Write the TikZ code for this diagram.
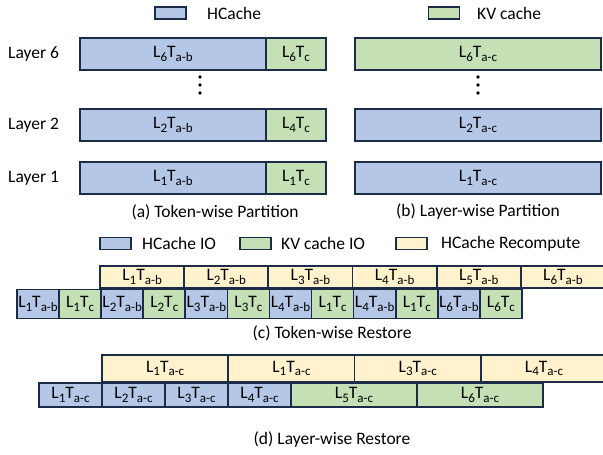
\documentclass[tikz,border=0pt]{standalone}
\usepackage{fontspec}
\setmainfont{Carlito}
\definecolor{edge}{HTML}{1C2C48}
\definecolor{hblue}{HTML}{B4C7E7}
\definecolor{kgreen}{HTML}{C5E0B4}
\definecolor{ryellow}{HTML}{FFF2CC}
% lowered, reduced-size index
\newcommand\idx[1]{\raisebox{-3.2pt}{\fontsize{13}{14}\selectfont #1}}
% layer/token block label, e.g. L_6 T_{a-b}
\newcommand\LT[2]{L\idx{#1}T\idx{#2}}
\begin{document}
\begin{tikzpicture}[x=1pt,y=-1pt,
  font=\fontsize{17.5}{20}\selectfont,
  cell/.style={draw=edge,line width=1.7pt,inner sep=0pt,outer sep=0pt},
  fillH/.style={cell,fill=hblue},
  fillK/.style={cell,fill=kgreen},
  fillR/.style={cell,fill=ryellow},
  legbox/.style={minimum width=31pt,minimum height=12pt},
  txt/.style={inner sep=0pt,anchor=west},
  dot/.style={fill=black,circle,inner sep=0pt,minimum size=3.6pt}]
\useasboundingbox (0,0) rectangle (603,455);

% ---------- (a) / (b) legend ----------
\node[fillH,legbox] (lgH) at (170.5,13) {};
\node[txt] (lgHt) at (207,13) {HCache};
\node[fillK,legbox] (lgK) at (444,13) {};
\node[txt] (lgKt) at (477,13) {KV cache};

% ---------- layer labels ----------
\node[txt] (lay6) at (8,54) {Layer 6};
\node[txt] (lay2) at (8,125) {Layer 2};
\node[txt] (lay1) at (8,178) {Layer 1};

% ---------- (a) token-wise partition ----------
\foreach \n/\y/\c in {6/54/6, 2/125/4, 1/178/1} {
  \node[fillH,minimum width=186pt,minimum height=32pt] (a\n h) at (173,\y) {\LT{\n}{a-b}};
  \node[fillK,minimum width=60pt,minimum height=32pt] (a\n k) at (296,\y) {\LT{\c}{c}};
}
\foreach \y [count=\k] in {77,85,93} \node[dot] (adot\k) at (200,\y) {};
\node (capa) at (215,212) {(a) Token-wise Partition};

% ---------- (b) layer-wise partition ----------
\node[fillK,minimum width=246pt,minimum height=32pt] (b6) at (478,54) {\LT{6}{a-c}};
\node[fillH,minimum width=246pt,minimum height=32pt] (b2) at (478,125) {\LT{2}{a-c}};
\node[fillH,minimum width=246pt,minimum height=32pt] (b1) at (478,178) {\LT{1}{a-c}};
\foreach \y [count=\k] in {77,85,93} \node[dot] (bdot\k) at (478,\y) {};
\node (capb) at (478,212) {(b) Layer-wise Partition};

% ---------- (c) / (d) legend ----------
\node[fillH,legbox] (lgHio) at (115.5,243.5) {};
\node[txt] (lgHiot) at (142,243.5) {HCache IO};
\node[fillK,legbox] (lgKio) at (255.5,243.5) {};
\node[txt] (lgKiot) at (281,243.5) {KV cache IO};
\node[fillR,legbox] (lgR) at (411.5,243.5) {};
\node[txt] (lgRt) at (441,243.5) {HCache Recompute};

% ---------- (c) token-wise restore ----------
\foreach \i in {0,...,5} {
  \pgfmathtruncatemacro\n{\i+1}
  \node[fillR,minimum width=84.17pt,minimum height=22pt] (ct\i) at ({100+84.17*(\i+0.5)},277) {\LT{\n}{a-b}};
}
\foreach \i/\n/\s/\f in {0/1/a-b/fillH, 1/1/c/fillK, 2/2/a-b/fillH, 3/2/c/fillK,
                         4/3/a-b/fillH, 5/3/c/fillK, 6/4/a-b/fillH, 7/1/c/fillK,
                         8/4/a-b/fillH, 9/1/c/fillK, 10/6/a-b/fillH, 11/6/c/fillK} {
  \node[\f,minimum width=42.08pt,minimum height=29pt] (cb\i) at ({17+42.08*(\i+0.5)},304) {\LT{\n}{\s}};
}
\node (capc) at (332,333) {(c) Token-wise Restore};

% ---------- (d) layer-wise restore ----------
\foreach \i/\n in {0/1, 1/1, 2/3, 3/4} {
  \node[fillR,minimum width=126.3pt,minimum height=27pt] (dt\i) at ({102+126.3*(\i+0.5)},368.5) {\LT{\n}{a-c}};
}
\foreach \i in {0,...,3} {
  \pgfmathtruncatemacro\n{\i+1}
  \node[fillH,minimum width=63pt,minimum height=24pt] (db\i) at ({39+63*(\i+0.5)},395) {\LT{\n}{a-c}};
}
\node[fillK,minimum width=126pt,minimum height=24pt] (db4) at (354,395) {\LT{5}{a-c}};
\node[fillK,minimum width=126pt,minimum height=24pt] (db5) at (480,395) {\LT{6}{a-c}};
\node (capd) at (332,440) {(d) Layer-wise Restore};
\end{tikzpicture}
\end{document}
